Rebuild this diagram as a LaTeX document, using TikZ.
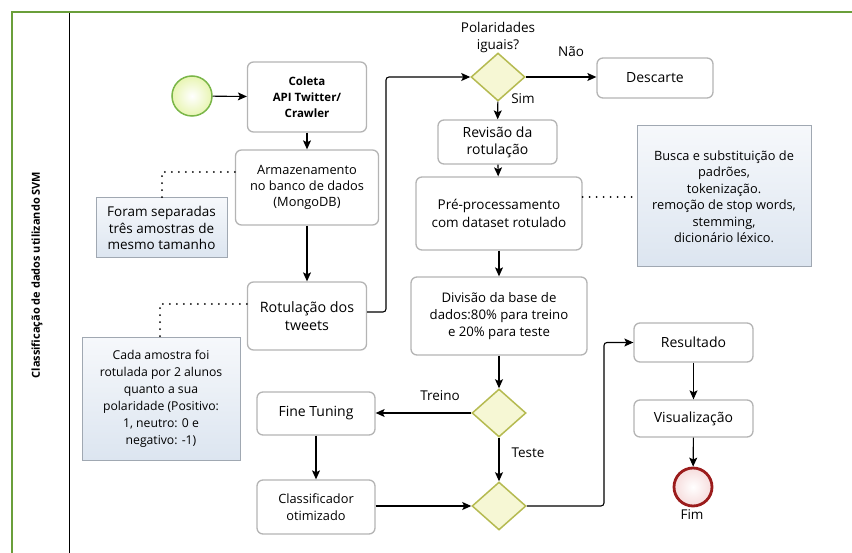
\documentclass[tikz,border=0pt]{standalone}
\usepackage{fontspec}
\setmainfont{Open Sans}
\usetikzlibrary{arrows.meta,shapes.geometric}
\definecolor{frame}{RGB}{106,159,58}
\definecolor{boxline}{RGB}{180,180,180}
\definecolor{noteline}{RGB}{160,168,178}
\definecolor{notetop}{RGB}{246,248,251}
\definecolor{notebot}{RGB}{220,229,240}
\definecolor{gwfill}{RGB}{246,247,212}
\definecolor{gwline}{RGB}{181,186,80}
\definecolor{startfill}{RGB}{232,245,178}
\definecolor{startline}{RGB}{122,182,72}
\definecolor{endfill}{RGB}{246,220,220}
\definecolor{endline}{RGB}{155,28,28}
\newcommand{\fsz}[2]{\fontsize{#1}{#2}\selectfont}
\tikzset{
  task/.style={draw=boxline,line width=1.3pt,rounded corners=6pt,fill=white,align=center,
    inner sep=2pt,font=\fsz{13.5}{17}},
  notebox/.style={draw=noteline,line width=1pt,top color=notetop,bottom color=notebot,
    align=center,inner sep=2pt,font=\fsz{13}{16.5}},
  gateway/.style={diamond,draw=gwline,line width=1.5pt,fill=gwfill,minimum width=54pt,
    minimum height=48pt,inner sep=0pt},
  flow/.style={draw=black,line width=1.1pt,-{Stealth[length=9pt,width=8pt,inset=2pt]},
    rounded corners=3pt},
  assoc/.style={draw=black,line width=2pt,line cap=round,dash pattern=on 0pt off 7pt},
  lbl/.style={font=\fsz{13.5}{17},align=center,inner sep=0pt},
}
\begin{document}
\begin{tikzpicture}[x=1pt,y=-1pt]
\useasboundingbox (0,0) rectangle (852,553);
% pool frame
\draw[frame,line width=2.5pt] (12,553) -- (12,12) -- (852,12);
\draw[black,line width=1pt] (69,13) -- (69,553);
\node[rotate=90,font=\fsz{11}{13}\bfseries] (pool) at (37,275) {Classificação de dados utilizando SVM};

% events
\node[circle,draw=startline,line width=1.5pt,inner color=white,outer color=startfill,minimum size=40pt,inner sep=0pt] (start) at (192,96) {};
\node[circle,draw=endline,line width=2.8pt,inner color=white,outer color=endfill,minimum size=38pt,inner sep=0pt] (fim) at (693,487) {};
\node[lbl] (fimlbl) at (692,515) {Fim};

% tasks
\node[task,minimum width=119pt,minimum height=70pt,font=\fsz{11.5}{16}\bfseries] (coleta) at (307,97) {Coleta\\API Twitter/\\Crawler};
\node[task,minimum width=143pt,minimum height=75pt,font=\fsz{12.8}{16}] (armaz) at (307,187.5) {Armazenamento\\no banco de dados\\(MongoDB)};
\node[task,minimum width=119pt,minimum height=68pt,font=\fsz{14.3}{17.7}] (rotul) at (307,316) {Rotulação dos\\tweets};
\node[task,minimum width=116pt,minimum height=40pt,font=\fsz{14}{17}] (descarte) at (655,78) {Descarte};
\node[task,minimum width=119pt,minimum height=44pt,font=\fsz{14}{17}] (revisao) at (497.5,142) {Revisão da\\rotulação};
\node[task,minimum width=166pt,minimum height=73pt,font=\fsz{13.5}{18}] (pre) at (499,213.5) {Pré-processamento\\com dataset rotulado};
\node[task,minimum width=176pt,minimum height=78pt,font=\fsz{13.2}{17}] (divisao) at (499,316) {Divisão da base de\\dados:80\% para treino\\e 20\% para teste};
\node[task,minimum width=118pt,minimum height=43pt,font=\fsz{14}{17}] (fine) at (316,413.5) {Fine Tuning};
\node[task,minimum width=118pt,minimum height=54pt,font=\fsz{12.8}{17}] (classif) at (316,507) {Classificador\\otimizado};
\node[task,minimum width=119pt,minimum height=39pt,font=\fsz{14}{17}] (result) at (693.5,342.5) {Resultado};
\node[task,minimum width=119pt,minimum height=37pt,font=\fsz{14}{17}] (visual) at (693.5,418.5) {Visualização};

% gateways
\node[gateway] (g1) at (498,77) {};
\node[gateway] (g2) at (499,413) {};
\node[gateway] (g3) at (499,506) {};
\node[lbl] (g1lbl) at (498,37) {Polaridades\\iguais?};
\node[lbl] (nao) at (571,52) {Não};
\node[lbl] (sim) at (523,99) {Sim};
\node[lbl] (treino) at (440,396) {Treino};
\node[lbl] (teste) at (528,453) {Teste};

% notes
\node[notebox,minimum width=131pt,minimum height=60pt,font=\fsz{13.5}{16.5}] (note1) at (161.5,228) {Foram separadas\\três amostras de\\mesmo tamanho};
\node[notebox,minimum width=158pt,minimum height=122pt,font=\fsz{12.2}{17}] (note2) at (161,399) {Cada amostra foi\\rotulada por 2 alunos\\quanto a sua\\polaridade (Positivo:\\1, neutro: 0 e\\negativo: -1)};
\node[notebox,minimum width=174pt,minimum height=141pt,font=\fsz{12.8}{16.5}] (note3) at (724,196.5) {Busca e substituição de\\padrões,\\tokenização.\\remoção de stop words,\\stemming,\\dicionário léxico.};

% sequence flows
\draw[flow] (start) -- (coleta);
\draw[flow] (coleta) -- (armaz);
\draw[flow] (armaz) -- (rotul);
\draw[flow] (rotul.east |- 0,312) -- (386,312) -- (386,77) -- (g1.west);
\draw[flow] (g1.east) -- (descarte.west |- g1.east);
\draw[flow] (g1) -- (revisao);
\draw[flow] (revisao) -- (pre);
\draw[flow] (pre) -- (divisao);
\draw[flow] (divisao) -- (g2);
\draw[flow] (g2.west) -- (fine.east |- g2.west);
\draw[flow] (g2) -- (g3);
\draw[flow] (fine) -- (classif);
\draw[flow] (classif.east |- g3.west) -- (g3.west);
\draw[flow] (g3.east) -- (604,506) -- (604,342.5) -- (result.west);
\draw[flow] (result) -- (visual);
\draw[flow] (visual) -- (fim);

% associations
\draw[assoc] (armaz.west |- 0,172) -- (162,172) -- (note1.north -| 162,0);
\draw[assoc] (rotul.west |- 0,304) -- (160,304) -- (note2.north -| 160,0);
\draw[assoc] (pre.east |- 0,197) -- (note3.west |- 0,197);
\end{tikzpicture}
\end{document}
